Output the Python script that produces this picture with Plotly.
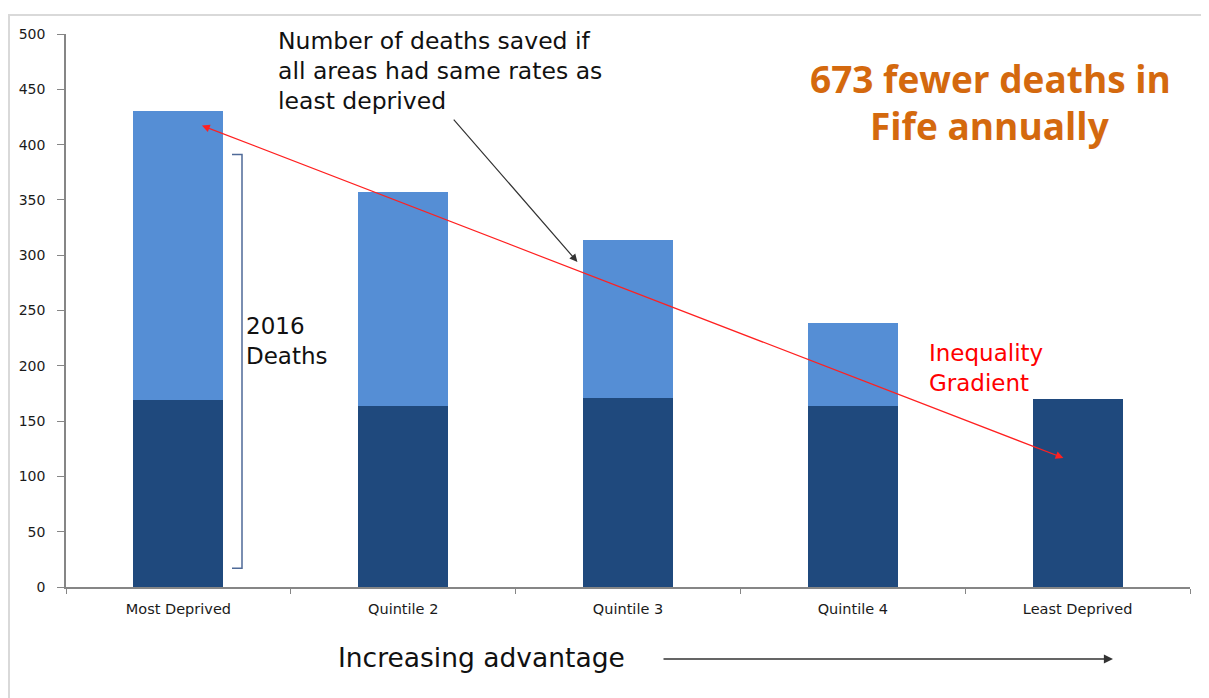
import plotly.graph_objects as go

categories = ["Most Deprived", "Quintile 2", "Quintile 3", "Quintile 4", "Least Deprived"]
baseline_deaths = [169, 164, 171, 164, 170]
excess_deaths = [261, 193, 143, 75, 0]
y_ticks = [0, 50, 100, 150, 200, 250, 300, 350, 400, 450, 500]

OFF = 8  # page body margin
W, H = 1201, 690
L, T = 66 - OFF, 34 - OFF
RX, BY = 1190 - OFF, 587 - OFF
R, B = W - RX, H - BY
PW, PH = RX - L, BY - T

def px(x):  # reference screenshot x -> paper
    return (x - OFF - L) / PW

def py(y):  # reference screenshot y -> paper
    return (BY - (y - OFF)) / PH

FONT = "DejaVu Sans, sans-serif"

fig = go.Figure()
fig.add_trace(go.Bar(x=categories, y=baseline_deaths, marker=dict(color="#1f497d", line=dict(width=0)),
                     name="Baseline", hoverinfo="y"))
fig.add_trace(go.Bar(x=categories, y=excess_deaths, marker=dict(color="#558ed5", line=dict(width=0)),
                     name="Excess", hoverinfo="y"))

fig.update_layout(
    width=W, height=H,
    margin=dict(l=L, r=R, t=T, b=B),
    barmode="stack", bargap=0.6,
    showlegend=False,
    plot_bgcolor="white", paper_bgcolor="white",
    font=dict(family=FONT, color="#222222"),
    xaxis=dict(showline=True, linecolor="#868686", linewidth=1.5, ticks="outside", tickson="boundaries",
               ticklen=5, tickcolor="#868686", tickfont=dict(size=14.5, color="#1a1a1a"), showgrid=False,
               ticklabelstandoff=8),
    yaxis=dict(range=[0, 500], tickvals=y_ticks, showline=True, linecolor="#868686", linewidth=1.5,
               ticks="outside", ticklen=7, tickcolor="#868686", tickfont=dict(size=14, color="#1a1a1a"),
               showgrid=False, zeroline=False, ticklabelstandoff=9),
)

# outer frame
fig.add_shape(type="rect", xref="paper", yref="paper", x0=px(9), y0=py(760), x1=px(1260), y1=py(15),
              line=dict(color="#d9d9d9", width=2), layer="below")

# bracket for 2016 deaths
bx, btx = px(242), px(232)
by0, by1 = 17, 391
fig.add_shape(type="path", xref="paper", yref="y",
              path=f"M {btx} {by1} L {bx} {by1} L {bx} {by0} L {btx} {by0}",
              line=dict(color="#4f6a98", width=1.5))

def label(x, y, text, size, color="#111111", anchor="left", family=FONT):
    fig.add_annotation(xref="paper", yref="paper", x=px(x), y=py(y), text=text, showarrow=False,
                       xanchor=anchor, yanchor="middle", font=dict(size=size, color=color, family=family))

label(244, 326, "2016", 23)
label(244, 356, "Deaths", 23)

# red inequality gradient double-headed arrow
fig.add_annotation(x=3.937, y=116.6, ax=0.098, ay=417.7, xref="x", yref="y", axref="x", ayref="y",
                   text="", showarrow=True, arrowhead=2, startarrowhead=2, arrowside="end+start",
                   arrowsize=1.3, startarrowsize=1.3, arrowwidth=1.2, arrowcolor="#ff2020")
label(927, 353, "Inequality", 23, color="#ff0000")
label(927, 383, "Gradient", 23, color="#ff0000")

# black arrow
fig.add_annotation(x=1.775, y=293.9, ax=1.219, ay=424, xref="x", yref="y", axref="x", ayref="y",
                   text="", showarrow=True, arrowhead=2, arrowsize=1.3, arrowwidth=1.2, arrowcolor="#333333")
label(276, 41, "Number of deaths saved if", 23.5)
label(276, 71, "all areas had same rates as", 23.5)
label(276, 101, "least deprived", 23.5)

# headline
label(990, 79, "<b>673 fewer deaths in</b>", 37, color="#d4690e", anchor="center", family="Open Sans, sans-serif")
label(990, 125, "<b>Fife annually</b>", 37, color="#d4690e", anchor="center", family="Open Sans, sans-serif")

# bottom label and arrow
label(336, 657, "Increasing advantage", 26.5)
fig.add_annotation(xref="paper", yref="paper", x=px(1113), y=py(659), ax=-(1113 - 662), ay=0,
                   axref="pixel", ayref="pixel", text="", showarrow=True, arrowhead=2, arrowsize=1.4,
                   arrowwidth=1.3, arrowcolor="#333333")

fig.write_html("out.html")
